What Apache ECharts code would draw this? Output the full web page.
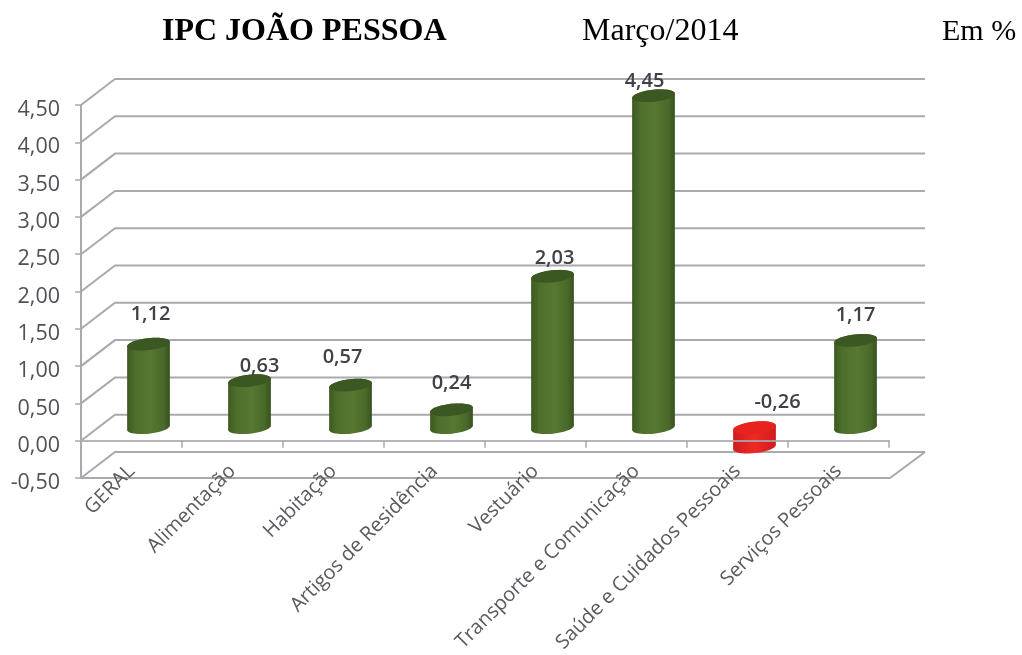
<!DOCTYPE html>
<html>
<head>
<meta charset="utf-8">
<title>IPC João Pessoa</title>
<script src="https://cdn.jsdelivr.net/npm/echarts@6/dist/echarts.min.js"></script>
<style>
	html, body { margin: 0; padding: 0; background: #fff; }
	#main { width: 1022px; height: 655px; }
</style>
</head>
<body>
<div id="main"></div>
<script>
//dados do grafico
var categorias = ["GERAL", "Alimentação", "Habitação", "Artigos de Residência", "Vestuário", "Transporte e Comunicação", "Saúde e Cuidados Pessoais", "Serviços Pessoais"];
var valores = [1.12, 0.63, 0.57, 0.24, 2.03, 4.45, -0.26, 1.17];
var marcasY = [-0.5, 0, 0.5, 1, 1.5, 2, 2.5, 3, 3.5, 4, 4.5];

//deslocamento dos rotulos em relacao ao topo da barra
var ajusteRotulo = [[2, -30], [10, -14], [-8, -28], [0, -26], [2, -18], [-9, -14], [23, -45], [0, -25]];

//profundidade do falso 3D, em pixels
var fundoX = 34;
var fundoY = -26;
var corGrade = "#a9a9ae";

function virgula(v) {
	return v.toFixed(2).replace(".", ",");
}

//pontos de um arco de elipse inclinada
function arco(cx, cy, rx, ry, de, ate) {
	var pts = [];
	var incl = -0.11;
	for (var i = 0; i <= 24; i++) {
		var t = de + (ate - de) * i / 24;
		var x = rx * Math.cos(t);
		var y = ry * Math.sin(t);
		pts.push([cx + x * Math.cos(incl) - y * Math.sin(incl), cy + x * Math.sin(incl) + y * Math.cos(incl)]);
	}
	return pts;
}

//grade de fundo: diagonal na parede e linha horizontal atras
function desenhaGrade(params, api) {
	var v = api.value(0);
	var ini = api.coord([0, v]);
	ini[0] = params.coordSys.x;
	var fimX = params.coordSys.x + params.coordSys.width;
	var filhos = [{
		type: "polyline",
		shape: { points: [ini, [ini[0] + fundoX, ini[1] + fundoY], [fimX + fundoX + 2, ini[1] + fundoY]] },
		style: { stroke: corGrade, lineWidth: 2, fill: null }
	}];
	if (params.dataIndex == 0) {
		//piso
		filhos.push({
			type: "polyline",
			shape: { points: [ini, [fimX + 1, ini[1]], [fimX + fundoX + 2, ini[1] + fundoY]] },
			style: { stroke: corGrade, lineWidth: 2, fill: null }
		});
	}
	return { type: "group", children: filhos };
}

//cilindro de cada categoria
function desenhaBarra(params, api) {
	var i = api.value(0);
	var v = api.value(1);
	var base = api.coord([i, 0]);
	var ponta = api.coord([i, v]);
	var cx = base[0] + fundoX / 2;
	var y0 = base[1] + fundoY / 2;
	var y1 = ponta[1] + fundoY / 2;
	var yTopo = Math.min(y0, y1);
	var yBase = Math.max(y0, y1);
	var rx = 21.5;
	var ry = 6;
	var negativo = v < 0;
	var corpo = arco(cx, yBase, rx, ry, 0, Math.PI).concat(arco(cx, yTopo, rx, ry, Math.PI, 2 * Math.PI));
	var grad = {
		type: "linear", x: 0, y: 0, x2: 1, y2: 0,
		colorStops: negativo ?
			[{ offset: 0, color: "#cf1c1c" }, { offset: 0.5, color: "#ee2a26" }, { offset: 1, color: "#cf1c1c" }] :
			[{ offset: 0, color: "#3c5a20" }, { offset: 0.2, color: "#4e6f2c" }, { offset: 0.55, color: "#567831" }, { offset: 0.85, color: "#4a692a" }, { offset: 1, color: "#36531e" }]
	};
	var aj = ajusteRotulo[i];
	return {
		type: "group",
		children: [{
			type: "polygon",
			shape: { points: corpo },
			style: { fill: grad }
		}, {
			type: "polygon",
			shape: { points: arco(cx, yTopo, rx, ry, 0, 2 * Math.PI) },
			style: { fill: negativo ? "#e8231f" : "#3b5722" }
		}, {
			type: "text",
			style: {
				x: cx + aj[0],
				y: y1 + aj[1],
				text: virgula(v),
				align: "center",
				verticalAlign: "middle",
				font: "600 20px 'Open Sans'",
				fill: "#404048"
			}
		}]
	};
}

var chart = echarts.init(document.getElementById("main"));
var option = {
	backgroundColor: "#fff",
	animation: false,
	title: [
		{ text: "IPC JOÃO PESSOA", left: 157, top: 11, textStyle: { fontFamily: "Liberation Serif", fontWeight: "bold", fontSize: 32, color: "#000" } },
		{ text: "Março/2014", left: 577, top: 11, textStyle: { fontFamily: "Liberation Serif", fontWeight: "normal", fontSize: 32, color: "#000" } },
		{ text: "Em %", left: 937, top: 12, textStyle: { fontFamily: "Liberation Serif", fontWeight: "normal", fontSize: 30, color: "#000" } }
	],
	grid: { left: 81, right: 133, top: 105, bottom: 177, outerBoundsMode: "none" },
	xAxis: {
		type: "category",
		data: categorias,
		z: 5,
		axisLine: { onZero: true, lineStyle: { color: corGrade, width: 2, opacity: 0.85 } },
		axisTick: { show: true, alignWithLabel: false, length: 7, lineStyle: { color: corGrade, width: 1.5 } },
		axisLabel: { interval: 0, rotate: 45, margin: -10, hideOverlap: false, fontFamily: "Open Sans", fontSize: 20, color: "#5a5a60" }
	},
	yAxis: {
		type: "value",
		min: -0.5,
		max: 4.5,
		interval: 0.5,
		splitLine: { show: false },
		axisLine: { show: true, lineStyle: { color: corGrade, width: 2 } },
		axisTick: { show: true, length: 6, lineStyle: { color: corGrade, width: 1.5 } },
		axisLabel: { margin: 21, verticalAlign: "top", lineHeight: 10, fontFamily: "Open Sans", fontSize: 21.5, color: "#505056", formatter: function (v) { return virgula(v); } }
	},
	series: [{
		type: "custom",
		z: 1,
		silent: true,
		renderItem: desenhaGrade,
		encode: { y: 0 },
		data: marcasY.map(function (v) { return [v]; })
	}, {
		type: "custom",
		z: 2,
		silent: true,
		renderItem: desenhaBarra,
		encode: { x: 0, y: 1 },
		data: valores.map(function (v, i) { return [i, v]; })
	}]
};
chart.setOption(option);
</script>
</body>
</html>
